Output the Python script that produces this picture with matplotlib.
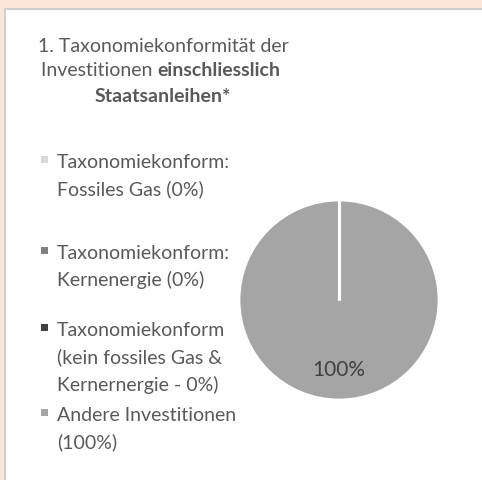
import matplotlib.pyplot as plt
import numpy as np
from matplotlib.patches import Rectangle

# Data
labels = [
    "Taxonomiekonform:\nFossiles Gas (0%)",
    "Taxonomiekonform:\nKernenergie (0%)",
    "Taxonomiekonform\n(kein fossiles Gas &\nKernernergie - 0%)",
    "Andere Investitionen\n(100%)",
]
values = [0, 0, 0, 100]
colors = ["#D9D9D9", "#7F7F7F", "#404040", "#A5A5A5"]

# Layout (pixels, from top-left)
W, H = 482, 481
label_baselines = [167, 258, 335, 420]
text_color = "#595959"
font = "Lato"

fig = plt.figure(figsize=(W / 100, H / 100), dpi=100)
fig.patch.set_facecolor("#FBE5D6")

def px(x, y):
    return x / W, 1 - y / H

# white panel with grey border
fig.patches.append(Rectangle(px(5, 600), 600 / W, 590 / H, transform=fig.transFigure,
                             facecolor="white", edgecolor="#D0D0D0", linewidth=1.5,
                             zorder=-5))

# title
fig.text(*px(163, 46), "1. Taxonomiekonformität der", ha="center", va="center",
         fontsize=14, color=text_color, family=font)
t1 = fig.text(*px(41, 71), "Investitionen ", ha="left", va="center",
              fontsize=14, color=text_color, family=font)
fig.canvas.draw()
bb = t1.get_window_extent()
fig.text(bb.x1 / W, 1 - 71 / H, "einschliesslich", ha="left", va="center",
         fontsize=14, color=text_color, family=font, weight="bold")
fig.text(*px(163, 96), "Staatsanleihen*", ha="center", va="center",
         fontsize=14, color=text_color, family=font, weight="bold")

# legend
for lab, col, base in zip(labels, colors, label_baselines):
    fig.patches.append(Rectangle(px(41, base - 3), 7 / W, 7 / H, transform=fig.transFigure,
                                 facecolor=col, edgecolor="none"))
    fig.text(*px(57, base - 13), lab, ha="left", va="top", fontsize=14, color=text_color,
             family=font, linespacing=1.62)

# pie
cx, cy, r = 339, 301, 100
ax = fig.add_axes([(cx - r) / W, (H - cy - r) / H, 2 * r / W, 2 * r / H], zorder=5)
ax.patch.set_alpha(0)
wedges, texts, autotexts = ax.pie(
    values, colors=colors, startangle=90, counterclock=False,
    autopct=lambda p: f"{p:.0f}%" if p > 0 else "", pctdistance=0.69,
    wedgeprops=dict(edgecolor="white", linewidth=2),
    textprops=dict(fontsize=15, color="#404040", family=font),
)
# zero-size slices collapse to a boundary line; draw it as white separator
for w, v in zip(wedges, values):
    if v == 0:
        a = np.deg2rad(w.theta1)
        (x0, y0), rr = w.center, w.r
        ax.plot([x0, x0 + rr * np.cos(a)], [y0, y0 + rr * np.sin(a)],
                color="white", linewidth=2.2, solid_capstyle="butt")

ax.set_xlim(-1, 1)
ax.set_ylim(-1, 1)
ax.set_aspect("equal")
ax.axis("off")

fig.savefig("out.png", dpi=100)
